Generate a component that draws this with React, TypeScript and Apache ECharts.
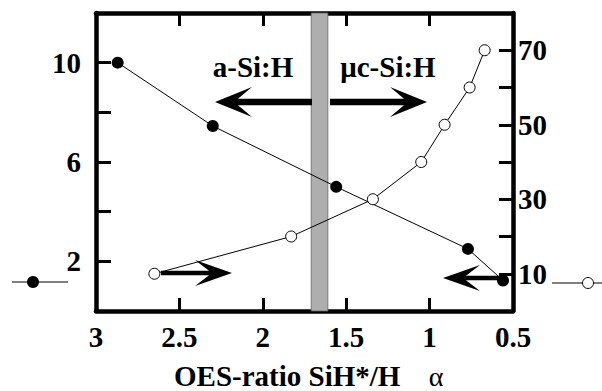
import React, { useEffect, useRef } from "react";
import * as echarts from "echarts";

// ---- data ----
const xTickLabels = [3, 2.5, 2, 1.5, 1, 0.5];
const leftTickLabels = [2, 6, 10];
const rightTickLabels = [10, 30, 50, 70];

const filledX = [2.87, 2.3, 1.56, 0.77, 0.56];
const filledY = [10, 7.45, 5.0, 2.5, 1.23];

const openX = [2.65, 1.83, 1.34, 1.05, 0.91, 0.76, 0.67];
const openY = [10, 20, 30, 40, 50, 60, 70];

const bandRange = [1.71, 1.61];
const phaseLabels = ["a-Si:H", "μc-Si:H"];
const xTitle = "OES-ratio SiH*/H";
const xTitleSymbol = "α";

const FONT = "Liberation Serif";

function arrowPoints(
  tipX: number,
  tipY: number,
  tailX: number,
  headLen: number,
  halfH: number,
  shaftHalf: number,
  notch: number
) {
  const dir = tailX > tipX ? 1 : -1;
  return [
    [tipX, tipY],
    [tipX + dir * headLen, tipY - halfH],
    [tipX + dir * (headLen - notch), tipY - shaftHalf],
    [tailX, tipY - shaftHalf],
    [tailX, tipY + shaftHalf],
    [tipX + dir * (headLen - notch), tipY + shaftHalf],
    [tipX + dir * headLen, tipY + halfH],
  ];
}

export default function App() {
  const ref = useRef<HTMLDivElement>(null);
  useEffect(() => {
    if (!ref.current) return;
    const chart = echarts.init(ref.current, undefined, { renderer: "svg" });

    const axisLine = { show: true, onZero: false, lineStyle: { color: "#000", width: 4.5 } };
    const tickStyle = { color: "#000", width: 3 };
    const labelBase = {
      color: "#000",
      fontFamily: FONT,
      fontWeight: "bold",
      fontSize: 29,
    };

    const arrows = [
      arrowPoints(215, 102, 312, 37, 15, 3.2, 14),
      arrowPoints(427, 102, 330, 37, 15, 3.2, 14),
      arrowPoints(232, 273, 161, 37, 13, 2.3, 14),
      arrowPoints(443, 278, 503, 37, 13, 2.3, 14),
    ];

    const textStyle = (text: string, x: number, y: number, align: string, bold = true, size = 29) => ({
      type: "text",
      x,
      y,
      silent: true,
      z: 12,
      style: {
        text,
        fill: "#000",
        fontFamily: FONT,
        fontWeight: bold ? "bold" : "normal",
        fontSize: size,
        align,
        verticalAlign: "middle",
      },
    });

    chart.setOption({
      animation: false,
      backgroundColor: "#fff",
      grid: { left: 96, right: 89, top: 13, bottom: 80 },
      xAxis: [
        {
          type: "value",
          position: "bottom",
          inverse: true,
          min: 0.5,
          max: 3,
          interval: 0.5,
          axisLine,
          axisTick: { show: true, inside: true, length: 13, lineStyle: tickStyle },
          axisLabel: {
            ...labelBase,
            margin: 11,
            showMinLabel: true,
            showMaxLabel: true,
            formatter: (v: number) => (xTickLabels.includes(v) ? String(v) : ""),
          },
          splitLine: { show: false },
        },
        {
          type: "value",
          position: "top",
          inverse: true,
          min: 0.5,
          max: 3,
          interval: 0.5,
          axisLine,
          axisTick: { show: true, inside: true, length: 13, lineStyle: tickStyle },
          axisLabel: { show: false },
          splitLine: { show: false },
        },
      ],
      yAxis: [
        {
          type: "value",
          position: "left",
          min: 0,
          max: 12,
          interval: 2,
          axisLine,
          axisTick: { show: true, inside: true, length: 15, lineStyle: tickStyle },
          axisLabel: {
            ...labelBase,
            margin: 15,
            formatter: (v: number) => (leftTickLabels.includes(v) ? String(v) : ""),
          },
          splitLine: { show: false },
        },
        {
          type: "value",
          position: "right",
          min: 0,
          max: 80,
          interval: 10,
          axisLine,
          axisTick: { show: true, inside: true, length: 14, lineStyle: tickStyle },
          axisLabel: {
            ...labelBase,
            margin: 5,
            formatter: (v: number) => (rightTickLabels.includes(v) ? String(v) : ""),
          },
          splitLine: { show: false },
        },
      ],
      series: [
        {
          type: "line",
          xAxisIndex: 0,
          yAxisIndex: 0,
          data: filledX.map((x, i) => [x, filledY[i]]),
          symbol: "circle",
          symbolSize: 12,
          itemStyle: { color: "#000" },
          lineStyle: { color: "#000", width: 1 },
          z: 3,
          markArea: {
            silent: true,
            itemStyle: { color: "#aeaeae", borderColor: "#666", borderWidth: 0.8 },
            data: [[{ xAxis: bandRange[0] }, { xAxis: bandRange[1] }]],
          },
        },
        {
          type: "line",
          xAxisIndex: 0,
          yAxisIndex: 1,
          data: openX.map((x, i) => [x, openY[i]]),
          symbol: "circle",
          symbolSize: 11,
          itemStyle: { color: "#fff", borderColor: "#000", borderWidth: 1 },
          lineStyle: { color: "#000", width: 1 },
          z: 4,
        },
      ],
      graphic: [
        ...arrows.map((pts) => ({
          type: "polygon",
          silent: true,
          z: 10,
          shape: { points: pts },
          style: { fill: "#000" },
        })),
        textStyle(phaseLabels[0], 253, 67, "center"),
        textStyle(phaseLabels[1], 388, 67, "center"),
        textStyle(xTitle, 174, 376, "left"),
        textStyle(xTitleSymbol, 436, 376, "center", false, 28),
        { type: "line", silent: true, shape: { x1: 12, y1: 282, x2: 68, y2: 282 }, style: { stroke: "#000", lineWidth: 1.2 } },
        { type: "circle", silent: true, shape: { cx: 33, cy: 282, r: 6 }, style: { fill: "#000" } },
        { type: "line", silent: true, shape: { x1: 552, y1: 283, x2: 602, y2: 283 }, style: { stroke: "#000", lineWidth: 1.2 } },
        { type: "circle", silent: true, z: 11, shape: { cx: 588, cy: 283, r: 5.5 }, style: { fill: "#fff", stroke: "#000", lineWidth: 1 } },
      ],
    });

    return () => chart.dispose();
  }, []);

  return (
    <div
      ref={ref}
      style={{ position: "fixed", left: 0, top: 0, width: 602, height: 391, background: "#fff" }}
    />
  );
}
